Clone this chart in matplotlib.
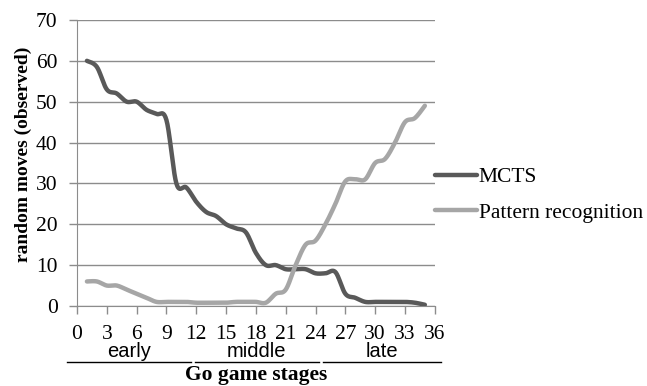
import numpy as np
import matplotlib.pyplot as plt
from matplotlib.lines import Line2D

# --- data ---
moves = list(range(1, 36))
mcts = [60, 58.5, 53, 52, 50, 50, 48, 47, 45.5, 30, 29, 25.5, 23, 22, 20,
        19, 18, 13, 10, 10, 9, 9, 9, 8, 8, 8.3, 3, 2, 1, 1, 1, 1, 1, 0.8, 0.3]
pattern = [6, 6, 5, 5, 4, 3, 2, 1, 1, 1, 1, 0.8, 0.8, 0.8, 0.8,
           1, 1, 1, 0.8, 3, 4, 10, 15, 16, 20, 25, 30.5, 31, 31, 35,
           36, 40, 45, 46, 49]
series_names = ["MCTS", "Pattern recognition"]
stage_names = ["early", "middle", "late"]
stage_spans = [(-1.0, 11.5), (11.9, 24.3), (24.8, 36.6)]

COLORS = {"MCTS": "#595959", "Pattern recognition": "#a6a6a6"}
GRID = "#8c8c8c"


def smooth(x, y, n=20):
    """Catmull-Rom curve through the points, like a smoothed office-chart line."""
    x = np.asarray(x, float); y = np.asarray(y, float)
    px = np.r_[x[0], x, x[-1]]; py = np.r_[y[0], y, y[-1]]
    xs, ys = [], []
    t = np.linspace(0, 1, n, endpoint=False)
    for i in range(1, len(px) - 2):
        for p, out in ((px, xs), (py, ys)):
            p0, p1, p2, p3 = p[i - 1], p[i], p[i + 1], p[i + 2]
            out.append(0.5 * ((2 * p1) + (-p0 + p2) * t
                              + (2 * p0 - 5 * p1 + 4 * p2 - p3) * t ** 2
                              + (-p0 + 3 * p1 - 3 * p2 + p3) * t ** 3))
    xs.append([x[-1]]); ys.append([y[-1]])
    return np.concatenate(xs), np.concatenate(ys)


plt.rcParams["font.family"] = ["Liberation Serif", "DejaVu Serif"]

fig = plt.figure(figsize=(6.47, 3.86), dpi=100)
ax = fig.add_axes([0.119, 0.2073, 0.553, 0.741])

for name, vals in zip(series_names, [mcts, pattern]):
    sx, sy = smooth(moves, vals)
    ax.plot(sx, sy, color=COLORS[name], linewidth=3.2, solid_capstyle="round",
            label=name, zorder=3)

ax.set_xlim(0, 36)
ax.set_ylim(0, 70)
ax.set_xticks(range(0, 37, 3))
ax.set_yticks(range(0, 71, 10))
ax.tick_params(labelsize=15.5, color=GRID, length=6, width=1, direction="out")
ax.tick_params(axis="x", pad=8)
ax.tick_params(axis="y", pad=8)
ax.grid(axis="y", color=GRID, linewidth=1)
ax.set_axisbelow(True)
for s in ("top", "right"):
    ax.spines[s].set_visible(False)
for s in ("left", "bottom"):
    ax.spines[s].set_color(GRID)

ax.set_ylabel("random moves (observed)", fontsize=14, fontweight="bold")
ax.yaxis.set_label_coords(-0.125, 0.531)

# stage labels with underlines beneath the x axis
tr = ax.get_xaxis_transform()
for name, (a, b) in zip(stage_names, stage_spans):
    ax.add_line(Line2D([a, b], [-0.196, -0.196], transform=tr, color="black",
                       linewidth=1, clip_on=False))
    ax.text((a + b) / 2, -0.179, name, transform=tr, ha="center", va="baseline",
            fontsize=14.5, family="Liberation Sans")
ax.text(18, -0.241, "Go game stages", transform=tr, ha="center", va="center",
        fontsize=15.5, fontweight="bold")

ax.legend(loc="center left", bbox_to_anchor=(1.0, 0.388), frameon=False,
          fontsize=15.5, handlelength=1.95, handletextpad=0.1,
          labelspacing=0.7, borderaxespad=0, borderpad=0)

fig.savefig("out.png", dpi=100)
